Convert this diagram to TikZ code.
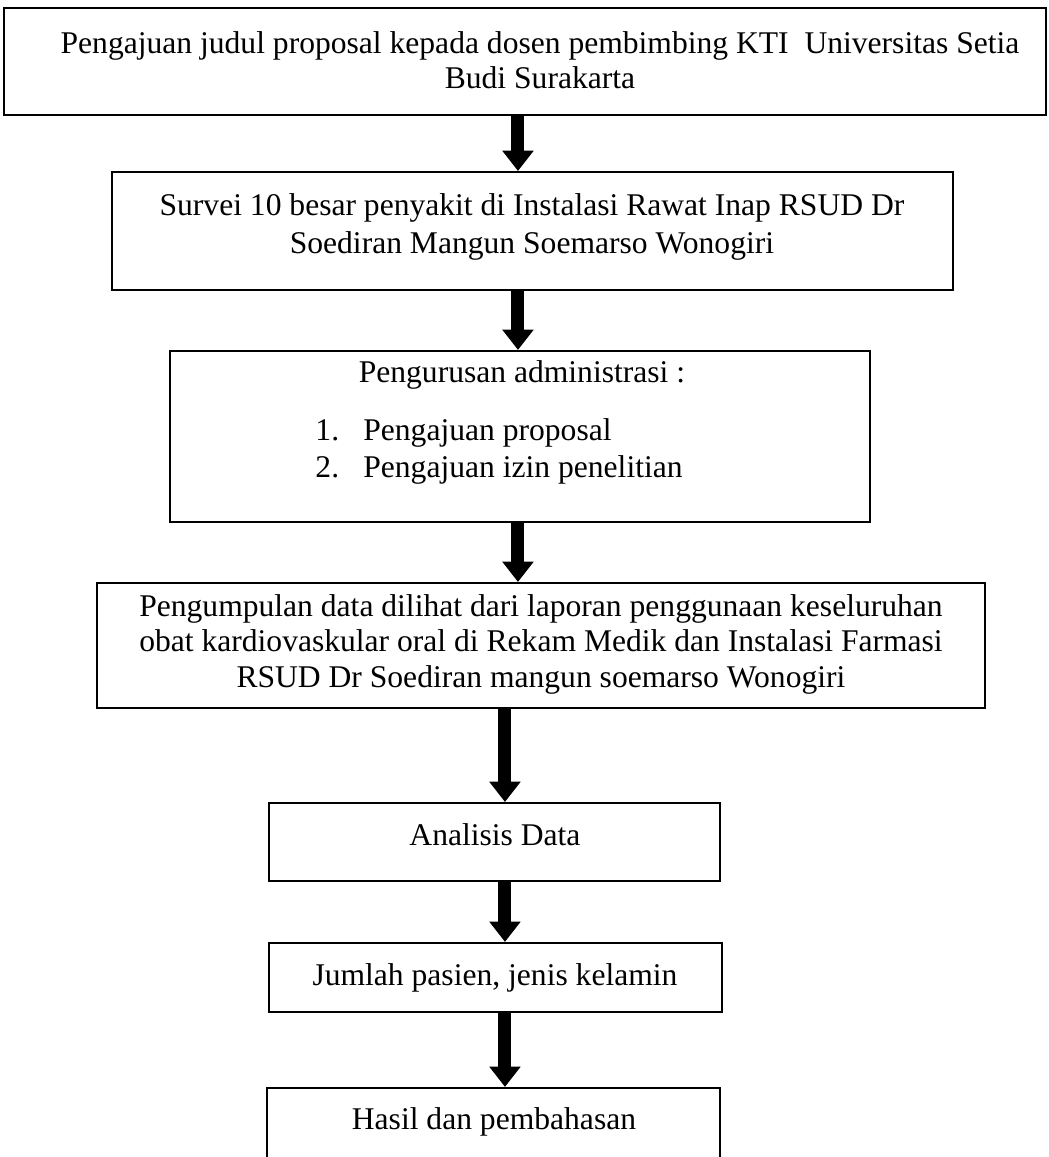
\documentclass[tikz,border=0pt]{standalone}
\usepackage{fontspec}
\setmainfont{Liberation Serif}
\usetikzlibrary{arrows.meta}

\begin{document}
\begin{tikzpicture}[
    box/.style={
        draw=black,
        line width=0.8pt,
        inner sep=0pt
      },
    txt/.style={
        anchor=north,
        align=center,
        inner sep=0pt,
        font=\fontsize{12.85}{14.4}\selectfont
      },
    blk/.style={-{Triangle[width=0.43cm, length=0.29cm]}, black, line width=0.186cm}
  ]
  \useasboundingbox (0,0) rectangle (15.0,-16.545);

  \node[box, minimum width=14.90cm, minimum height=1.53cm] (judul) at (7.507,-0.879) {};
  \node[box, minimum width=12.03cm, minimum height=1.687cm] (survei) at (7.614,-3.303) {};
  \node[box, minimum width=10.01cm, minimum height=2.445cm] (admin) at (7.436,-6.241) {};
  \node[box, minimum width=12.70cm, minimum height=1.787cm] (data) at (7.736,-9.230) {};
  \node[box, minimum width=6.449cm, minimum height=1.115cm] (analisis) at (7.071,-12.040) {};
  \node[box, minimum width=6.478cm, minimum height=0.987cm] (jumlah) at (7.085,-13.977) {};
  \node[box, minimum width=6.478cm, minimum height=1.40cm] (hasil) at (7.057,-16.257) {};

  \node[txt, font=\fontsize{12.85}{14.2}\selectfont] (judultxt) at (7.722,-0.443)
    {Pengajuan judul proposal kepada dosen pembimbing KTI\ \ Universitas Setia\\Budi Surakarta};
  \node[txt, font=\fontsize{12.85}{15.5}\selectfont] (surveitxt) at (7.607,-2.760)
    {Survei 10 besar penyakit di Instalasi Rawat Inap RSUD Dr\\Soediran Mangun Soemarso Wonogiri};
  \node[txt] (admintxt) at (7.464,-5.148) {Pengurusan administrasi :};
  \node[txt, anchor=north west, align=left, font=\fontsize{12.85}{15}\selectfont] (adminlist) at (4.504,-5.977)
    {\makebox[19.5pt][l]{1.}Pengajuan proposal\\\makebox[19.5pt][l]{2.}Pengajuan izin penelitian};
  \node[txt] (datatxt) at (7.736,-8.494)
    {Pengumpulan data dilihat dari laporan penggunaan keseluruhan\\obat kardiovaskular oral di Rekam Medik dan Instalasi Farmasi\\RSUD Dr Soediran mangun soemarso Wonogiri};
  \node[txt] (analisistxt) at (7.078,-11.768) {Analisis Data};
  \node[txt] (jumlahtxt) at (7.078,-13.770) {Jumlah pasien, jenis kelamin};
  \node[txt] (hasiltxt) at (7.064,-15.829) {Hasil dan pembahasan};

  \coordinate (upper) at (7.407,0);
  \coordinate (lower) at (7.221,0);

  \draw[blk] (judul.south -| upper) -- (survei.north -| upper);
  \draw[blk] (survei.south -| upper) -- (admin.north -| upper);
  \draw[blk] (admin.south -| upper) -- (data.north -| upper);
  \draw[blk] (data.south -| lower) -- (analisis.north -| lower);
  \draw[blk] (analisis.south -| lower) -- (jumlah.north -| lower);
  \draw[blk] (jumlah.south -| lower) -- (hasil.north -| lower);
\end{tikzpicture}
\end{document}
